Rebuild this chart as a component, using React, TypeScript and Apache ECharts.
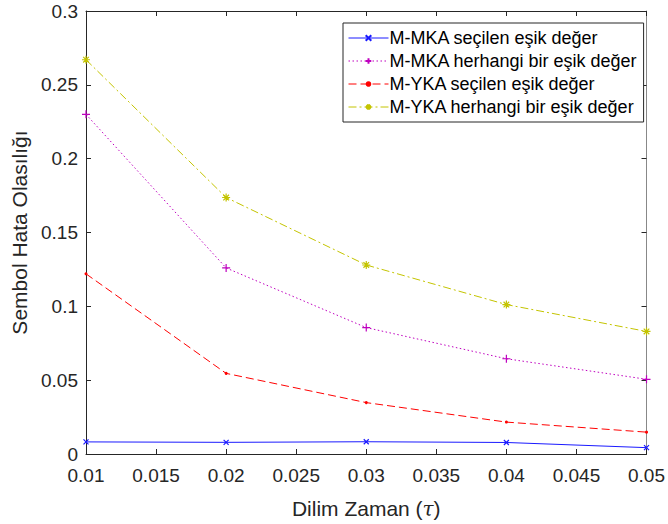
import React, { useEffect, useRef } from "react";
import * as echarts from "echarts";

// Slice time values (τ)
const tau = [0.01, 0.02, 0.03, 0.04, 0.05];

// Symbol error probability for each method
const mmkaSelected = [0.0082, 0.0079, 0.0083, 0.0078, 0.0043];
const mmkaAny = [0.23, 0.126, 0.0856, 0.0645, 0.0506];
const mykaSelected = [0.122, 0.0546, 0.0348, 0.0216, 0.0148];
const mykaAny = [0.267, 0.1737, 0.128, 0.1012, 0.083];

const seriesNames = [
  "M-MKA seçilen eşik değer",
  "M-MKA herhangi bir eşik değer",
  "M-YKA seçilen eşik değer",
  "M-YKA herhangi bir eşik değer",
];

const FONT = "'Liberation Sans', Arial, sans-serif";
const AXIS_COLOR = "#262626";

const X_MARK = "path://M0,0L10,10M10,0L0,10";
const PLUS_MARK = "path://M5,0L5,10M0,5L10,5";
const STAR_MARK = "path://M5,0L5,10M0,5L10,5M1.5,1.5L8.5,8.5M8.5,1.5L1.5,8.5";

const fmt = (v: number) => String(parseFloat(v.toFixed(4)));

function pairs(ys: number[]) {
  return tau.map((t, i) => [t, ys[i]]);
}

export default function App() {
  const ref = useRef<HTMLDivElement>(null);

  useEffect(() => {
    if (!ref.current) return;
    const chart = echarts.init(ref.current, null, { renderer: "svg" });

    const lineSeries = (
      name: string,
      ys: number[],
      color: string,
      type: any,
      symbol: string,
      symbolSize: number,
      filled: boolean
    ) => ({
      name,
      type: "line",
      xAxisIndex: 0,
      yAxisIndex: 0,
      data: pairs(ys),
      symbol,
      symbolSize,
      showSymbol: true,
      lineStyle: { color, width: 1, type },
      itemStyle: {
        color,
        borderColor: color,
        borderWidth: filled ? 0 : 1.2,
      },
      emphasis: { disabled: true },
    });

    chart.setOption({
      animation: false,
      backgroundColor: "#fff",
      textStyle: { fontFamily: FONT },
      grid: { left: 86, right: 17, top: 11, bottom: 68 },
      legend: {
        orient: "vertical",
        left: 343,
        top: 23,
        padding: [6, 6, 6, 5],
        itemWidth: 40,
        itemHeight: 7,
        itemGap: 5,
        backgroundColor: "#fff",
        borderColor: AXIS_COLOR,
        borderWidth: 1,
        borderRadius: 0,
        lineStyle: { width: 1 },
        textStyle: { fontFamily: FONT, fontSize: 18, color: "#000", padding: [0, 0, 0, -4] },
        data: seriesNames,
      },
      xAxis: [
        {
          type: "value",
          min: 0.01,
          max: 0.05,
          interval: 0.005,
          name: "Dilim Zaman ({t|τ})",
          nameLocation: "middle",
          nameGap: 44,
          nameTextStyle: {
            fontFamily: FONT,
            fontSize: 21,
            color: AXIS_COLOR,
            rich: { t: { fontFamily: "'DejaVu Serif', serif", fontStyle: "italic", fontSize: 20, color: AXIS_COLOR } },
          },
          axisLine: { show: true, onZero: false, lineStyle: { color: AXIS_COLOR, width: 1 } },
          axisTick: { show: true, inside: true, length: 5, lineStyle: { color: AXIS_COLOR } },
          axisLabel: { fontFamily: FONT, fontSize: 19, color: AXIS_COLOR, margin: 12, formatter: fmt },
          splitLine: { show: false },
        },
        {
          type: "value",
          position: "top",
          min: 0.01,
          max: 0.05,
          interval: 0.005,
          axisLine: { show: true, onZero: false, lineStyle: { color: AXIS_COLOR, width: 1 } },
          axisTick: { show: true, inside: true, length: 5, lineStyle: { color: AXIS_COLOR } },
          axisLabel: { show: false },
          splitLine: { show: false },
        },
      ],
      yAxis: [
        {
          type: "value",
          min: 0,
          max: 0.3,
          interval: 0.05,
          name: "Sembol Hata Olasılığı",
          nameLocation: "middle",
          nameRotate: 90,
          nameGap: 54,
          nameTextStyle: { fontFamily: FONT, fontSize: 21, color: AXIS_COLOR },
          axisLine: { show: true, onZero: false, lineStyle: { color: AXIS_COLOR, width: 1 } },
          axisTick: { show: true, inside: true, length: 5, lineStyle: { color: AXIS_COLOR } },
          axisLabel: { fontFamily: FONT, fontSize: 19, color: AXIS_COLOR, margin: 8, formatter: fmt },
          splitLine: { show: false },
        },
        {
          type: "value",
          position: "right",
          min: 0,
          max: 0.3,
          interval: 0.05,
          axisLine: { show: true, onZero: false, lineStyle: { color: "#888", width: 1 } },
          axisTick: { show: true, inside: true, length: 5, lineStyle: { color: AXIS_COLOR } },
          axisLabel: { show: false },
          splitLine: { show: false },
        },
      ],
      series: [
        lineSeries(seriesNames[0], mmkaSelected, "#1a1aff", "solid", X_MARK, 5, false),
        lineSeries(seriesNames[1], mmkaAny, "#bf00bf", [1.5, 2.5], PLUS_MARK, 8, false),
        lineSeries(seriesNames[2], mykaSelected, "#ff0000", [8, 4], "circle", 3, true),
        lineSeries(seriesNames[3], mykaAny, "#c4c400", [8, 3, 2, 3], STAR_MARK, 8, false),
      ],
    });

    return () => chart.dispose();
  }, []);

  return (
    <div
      ref={ref}
      style={{ position: "fixed", left: 0, top: 0, width: 668, height: 524 }}
    />
  );
}
